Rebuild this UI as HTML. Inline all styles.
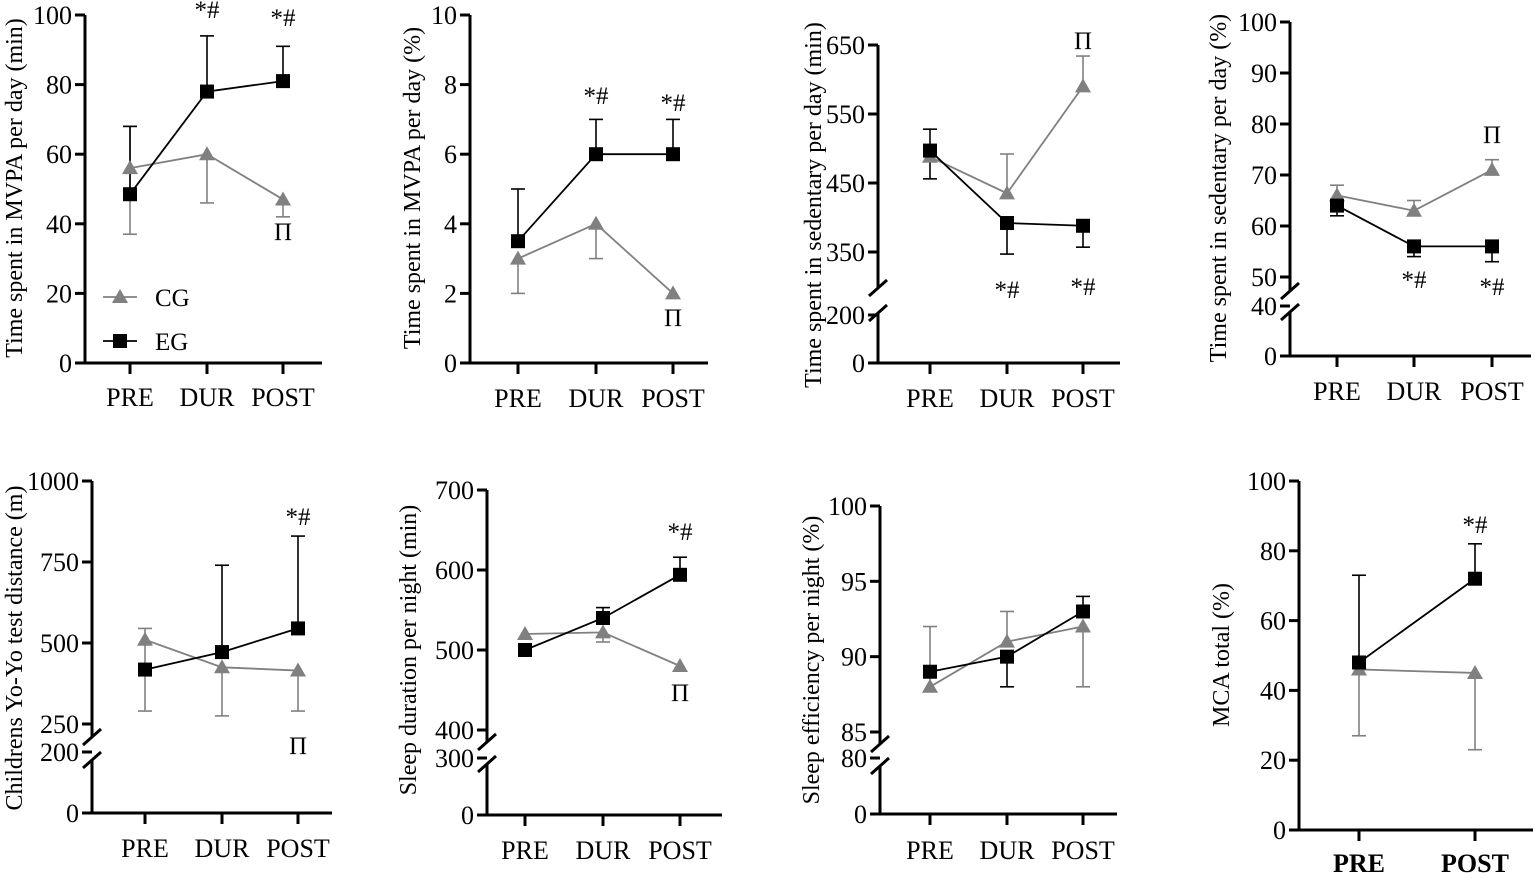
<!DOCTYPE html>
<html><head><meta charset="utf-8">
<style>
html,body{margin:0;padding:0;background:#fff;}
svg, svg text{font-family:"Liberation Serif","DejaVu Serif",serif;}
</style></head>
<body>
<svg id="fig" width="1535" height="873" viewBox="0 0 1535 873" xmlns="http://www.w3.org/2000/svg"></svg>
<script>
// ---- data ----
const cats3 = ["PRE","DUR","POST"];
const cats2 = ["PRE","POST"];

const p1Cg = [56, 60, 47];
const p1Eg = [48.5, 78, 81];
const p1CgHi = [68, null, null];
const p1CgLo = [37, 46, 42];
const p1EgHi = [68, 94, 91];
const p1EgLo = [null, null, null];
const p1Ticks = [0,20,40,60,80,100];

const p2Cg = [3, 4, 2];
const p2Eg = [3.5, 6, 6];
const p2CgHi = [null, null, null];
const p2CgLo = [2, 3, null];
const p2EgHi = [5, 7, 7];
const p2EgLo = [null, null, null];
const p2Ticks = [0,2,4,6,8,10];

const p3Cg = [488, 435, 590];
const p3Eg = [497, 392, 388];
const p3CgHi = [null, 492, 634];
const p3CgLo = [null, null, null];
const p3EgHi = [528, null, null];
const p3EgLo = [456, 347, 357];
const p3TicksUp = [350,450,550,650];
const p3TicksLo = [0,200];

const p4Cg = [66, 63, 71];
const p4Eg = [64, 56, 56];
const p4CgHi = [68, 65, 73];
const p4CgLo = [null, null, null];
const p4EgHi = [null, null, null];
const p4EgLo = [62, 54, 53];
const p4TicksUp = [50,60,70,80,90,100];
const p4TicksLo = [0,40];

const p5Cg = [510, 425, 415];
const p5Eg = [418, 472, 545];
const p5CgHi = [545, null, null];
const p5CgLo = [290, 275, 290];
const p5EgHi = [null, 740, 830];
const p5EgLo = [null, null, null];
const p5TicksUp = [250,500,750,1000];
const p5TicksLo = [0,200];

const p6Cg = [520, 522, 480];
const p6Eg = [500, 540, 594];
const p6CgHi = [null, null, null];
const p6CgLo = [null, 510, null];
const p6EgHi = [null, 553, 616];
const p6EgLo = [null, null, null];
const p6TicksUp = [400,500,600,700];
const p6TicksLo = [0,300];

const p7Cg = [88, 91, 92];
const p7Eg = [89, 90, 93];
const p7CgHi = [92, 93, null];
const p7CgLo = [null, null, 88];
const p7EgHi = [null, null, 94];
const p7EgLo = [null, 88, null];
const p7TicksUp = [85,90,95,100];
const p7TicksLo = [0,80];

const p8Cg = [46, 45];
const p8Eg = [48, 72];
const p8CgHi = [null, null];
const p8CgLo = [27, 23];
const p8EgHi = [73, 82];
const p8EgLo = [null, null];
const p8Ticks = [0,20,40,60,80,100];

// ---- drawing ----
const NS = "http://www.w3.org/2000/svg";
const svg = document.getElementById("fig");
function mk(tag, attrs, parent){
  const e = document.createElementNS(NS, tag);
  for (const k in attrs) e.setAttribute(k, attrs[k]);
  (parent||svg).appendChild(e);
  return e;
}
const GRAY = "#808080";

function drawPanel(c){
  const g = mk("g", {});
  
  
  function yOf(v){
    const s = (c.lower && v <= c.lower.max) ? c.lower : c.upper;
    return s.yb - (v - s.min) / (s.max - s.min) * (s.yb - s.yt);
  }
  const xs = c.xs;
  function xOf(i){ return xs[i]; }
  const yl = mk("g", {}, g);
  
  
  if (c.lower){
    mk("line",{x1:c.ax,y1:c.upper.yt,x2:c.ax,y2:c.breakTop,stroke:"#000","stroke-width":3},yl);
    mk("line",{x1:c.ax,y1:c.breakBot,x2:c.ax,y2:c.lower.yb+1.5,stroke:"#000","stroke-width":3},yl);
    mk("line",{x1:c.ax-9,y1:c.breakTop+8,x2:c.ax+9,y2:c.breakTop-8,stroke:"#000","stroke-width":3},yl);
    mk("line",{x1:c.ax-9,y1:c.breakBot+8,x2:c.ax+9,y2:c.breakBot-8,stroke:"#000","stroke-width":3},yl);
  } else {
    mk("line",{x1:c.ax,y1:c.upper.yt,x2:c.ax,y2:c.upper.yb+1.5,stroke:"#000","stroke-width":3},yl);
  }
  const allTicks = c.ticks.concat(c.ticksLo||[]);
  allTicks.forEach(t=>{
    const y = yOf(t);
    mk("line",{x1:c.ax-10,y1:y,x2:c.ax,y2:y,stroke:"#000","stroke-width":3},yl);
    const tx = mk("text",{x:c.ax-13,y:y+9,"text-anchor":"end","font-size":26},yl);
    tx.textContent = t;
    
    
  });
  const x0y = (c.lower||c.upper).yb;
  const xl = mk("g", {}, g);
  
  
  mk("line",{x1:c.ax-10,y1:x0y,x2:c.axEnd,y2:x0y,stroke:"#000","stroke-width":3},xl);
  c.cats.forEach((cat,i)=>{
    mk("line",{x1:xOf(i),y1:x0y,x2:xOf(i),y2:x0y+11,stroke:"#000","stroke-width":3},xl);
    const tx = mk("text",{x:xOf(i),y:c.labY,"text-anchor":"middle","font-size":26,"font-weight":c.boldX?"bold":"normal"},xl);
    tx.textContent = cat;
    
    
  });
  const ty = mk("text",{transform:`translate(${c.titleX},${c.titleY}) rotate(-90)`,"text-anchor":"middle","font-size":24},g);
  ty.textContent = c.title;
  
  
  function err(vals, hi, lo, color, w){
    vals.forEach((v,i)=>{
      [hi[i], lo[i]].forEach(e=>{
        if (e===null || e===undefined) return;
        const eb = mk("g",{},g);
        
        
        mk("line",{x1:xOf(i),y1:yOf(v),x2:xOf(i),y2:yOf(e),stroke:color,"stroke-width":w},eb);
        mk("line",{x1:xOf(i)-7,y1:yOf(e),x2:xOf(i)+7,y2:yOf(e),stroke:color,"stroke-width":w},eb);
      });
    });
  }
  err(c.cg, c.cgHi, c.cgLo, GRAY, 1.6);
  err(c.eg, c.egHi, c.egLo, "#000", 1.6);
  const cgPts = c.cg.map((v,i)=>xOf(i)+","+yOf(v)).join(" ");
  const cgl = mk("polyline",{points:cgPts,fill:"none",stroke:GRAY,"stroke-width":1.8},g);
  
  
  const egPts = c.eg.map((v,i)=>xOf(i)+","+yOf(v)).join(" ");
  const egl = mk("polyline",{points:egPts,fill:"none",stroke:"#000","stroke-width":1.8},g);
  
  
  c.cg.forEach((v,i)=>{
    const x=xOf(i), y=yOf(v);
    const m = mk("polygon",{points:`${x},${y-8} ${x-8},${y+6} ${x+8},${y+6}`,fill:GRAY},g);
    
    
  });
  c.eg.forEach((v,i)=>{
    const x=xOf(i), y=yOf(v);
    const m = mk("rect",{x:x-7,y:y-7,width:14,height:14,fill:"#000"},g);
    
    
  });
  (c.ann||[]).forEach(a=>{
    const t = mk("text",{x:xOf(a.i),y:a.y,"text-anchor":"middle","font-size":25},g);
    t.textContent = a.t;
    
    
  });
}

drawPanel({name:"panel-mvpa-min",cats:cats3,xs:[130,207,283],ax:85,axEnd:322,labY:406,
  upper:{min:0,max:100,yb:363,yt:15},ticks:p1Ticks,
  cg:p1Cg,eg:p1Eg,cgHi:p1CgHi,cgLo:p1CgLo,egHi:p1EgHi,egLo:p1EgLo,
  title:"Time spent in MVPA per day (min)",titleX:22,titleY:188,
  ann:[{i:1,y:18,t:"*#"},{i:2,y:26,t:"*#"},{i:2,y:240,t:"Π"}]});

drawPanel({name:"panel-mvpa-pct",cats:cats3,xs:[518,596,673],ax:470,axEnd:708,labY:407,
  upper:{min:0,max:10,yb:363,yt:15},ticks:p2Ticks,
  cg:p2Cg,eg:p2Eg,cgHi:p2CgHi,cgLo:p2CgLo,egHi:p2EgHi,egLo:p2EgLo,
  title:"Time spent in MVPA per day (%)",titleX:420,titleY:188,
  ann:[{i:1,y:104,t:"*#"},{i:2,y:111,t:"*#"},{i:2,y:326,t:"Π"}]});

drawPanel({name:"panel-sedentary-min",cats:cats3,xs:[930,1007,1083],ax:878,axEnd:1120,labY:407,
  upper:{min:350,max:650,yb:252,yt:45},ticks:p3TicksUp,
  lower:{min:0,max:200,yb:363,yt:315},ticksLo:p3TicksLo,breakTop:288,breakBot:313,
  cg:p3Cg,eg:p3Eg,cgHi:p3CgHi,cgLo:p3CgLo,egHi:p3EgHi,egLo:p3EgLo,
  title:"Time spent in sedentary per day (min)",titleX:821,titleY:205,
  ann:[{i:2,y:49,t:"Π"},{i:1,y:298,t:"*#"},{i:2,y:295,t:"*#"}]});

drawPanel({name:"panel-sedentary-pct",cats:cats3,xs:[1337,1414,1492],ax:1290,axEnd:1531,labY:400,
  upper:{min:50,max:100,yb:277,yt:22},ticks:p4TicksUp,
  lower:{min:0,max:40,yb:356,yt:306},ticksLo:p4TicksLo,breakTop:291,breakBot:312,
  cg:p4Cg,eg:p4Eg,cgHi:p4CgHi,cgLo:p4CgLo,egHi:p4EgHi,egLo:p4EgLo,
  title:"Time spent in sedentary per day (%)",titleX:1226,titleY:188,
  ann:[{i:2,y:143,t:"Π"},{i:1,y:288,t:"*#"},{i:2,y:295,t:"*#"}]});

drawPanel({name:"panel-yoyo",cats:cats3,xs:[145,222,298],ax:92,axEnd:332,labY:857,
  upper:{min:250,max:1000,yb:724,yt:481},ticks:p5TicksUp,
  lower:{min:0,max:200,yb:813,yt:752},ticksLo:p5TicksLo,breakTop:737,breakBot:760,
  cg:p5Cg,eg:p5Eg,cgHi:p5CgHi,cgLo:p5CgLo,egHi:p5EgHi,egLo:p5EgLo,
  title:"Childrens Yo-Yo test distance (m)",titleX:22,titleY:648,
  ann:[{i:2,y:525,t:"*#"},{i:2,y:754,t:"Π"}]});

drawPanel({name:"panel-sleep-duration",cats:cats3,xs:[525,603,680],ax:487,axEnd:722,labY:859,
  upper:{min:400,max:700,yb:730,yt:490},ticks:p6TicksUp,
  lower:{min:0,max:300,yb:815,yt:758},ticksLo:p6TicksLo,breakTop:742,breakBot:764,
  cg:p6Cg,eg:p6Eg,cgHi:p6CgHi,cgLo:p6CgLo,egHi:p6EgHi,egLo:p6EgLo,
  title:"Sleep duration per night (min)",titleX:416,titleY:650,
  ann:[{i:2,y:540,t:"*#"},{i:2,y:701,t:"Π"}]});

drawPanel({name:"panel-sleep-efficiency",cats:cats3,xs:[930,1007,1083],ax:880,axEnd:1117,labY:859,
  upper:{min:85,max:100,yb:732,yt:506},ticks:p7TicksUp,
  lower:{min:0,max:80,yb:814,yt:758},ticksLo:p7TicksLo,breakTop:744,breakBot:766,
  cg:p7Cg,eg:p7Eg,cgHi:p7CgHi,cgLo:p7CgLo,egHi:p7EgHi,egLo:p7EgLo,
  title:"Sleep efficiency per night (%)",titleX:819,titleY:660,ann:[]});

drawPanel({name:"panel-mca-total",cats:cats2,xs:[1359,1475],ax:1299,axEnd:1533,labY:872,boldX:true,
  upper:{min:0,max:100,yb:830,yt:481},ticks:p8Ticks,
  cg:p8Cg,eg:p8Eg,cgHi:p8CgHi,cgLo:p8CgLo,egHi:p8EgHi,egLo:p8EgLo,
  title:"MCA total (%)",titleX:1229,titleY:655,
  ann:[{i:1,y:533,t:"*#"}]});

// legend (panel 1)
const lg = mk("g",{});


const lgCg = mk("g",{},lg);


mk("line",{x1:103,y1:297,x2:137,y2:297,stroke:GRAY,"stroke-width":1.8},lgCg);
mk("polygon",{points:"120,289 112,303 128,303",fill:GRAY},lgCg);
const t1 = mk("text",{x:155,y:306,"font-size":25},lgCg); t1.textContent="CG";
const lgEg = mk("g",{},lg);


mk("line",{x1:103,y1:341,x2:137,y2:341,stroke:"#000","stroke-width":1.8},lgEg);
mk("rect",{x:113,y:334,width:14,height:14,fill:"#000"},lgEg);
const t2 = mk("text",{x:155,y:350,"font-size":25},lgEg); t2.textContent="EG";
</script>
</body></html>
